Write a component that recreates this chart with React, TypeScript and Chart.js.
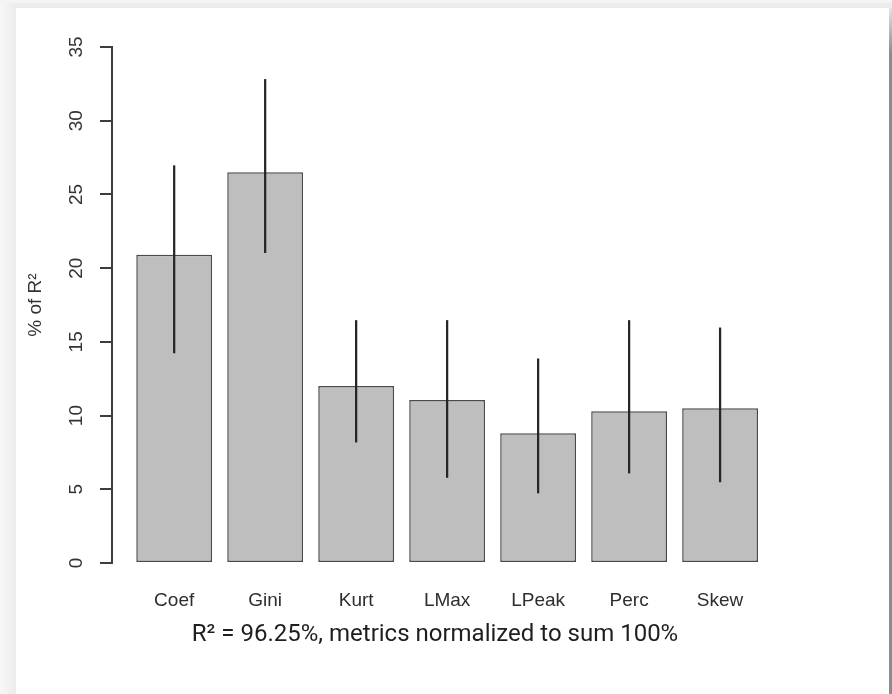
import { useEffect, useRef } from "react";
import { Chart, registerables } from "chart.js";

Chart.register(...registerables);

// Relative importance of each metric (share of R², %) with bootstrap intervals
const CATEGORIES = ["Coef", "Gini", "Kurt", "LMax", "LPeak", "Perc", "Skew"];
const SHARE = [20.9, 26.5, 12.0, 11.05, 8.8, 10.3, 10.5];
const CI_LOW = [14.25, 21.05, 8.2, 5.8, 4.75, 6.1, 5.5];
const CI_HIGH = [26.95, 32.8, 16.45, 16.45, 13.85, 16.45, 15.95];
const Y_TICKS = [0, 5, 10, 15, 20, 25, 30, 35];
const Y_TITLE = "% of R²";
const CAPTION = "R² = 96.25%, metrics normalized to sum 100%";

// barplot geometry: unit-wide bars separated by a gap of 0.2 bar widths
const BAR_WIDTH = 1;
const BAR_SPACE = 0.2;
const barCenter = (i: number) => BAR_SPACE + BAR_WIDTH / 2 + i * (BAR_WIDTH + BAR_SPACE);

const SANS = "'Liberation Sans', Arial, sans-serif";
const AXIS_INK = "#3d3d3d";

export default function App() {
  const canvasRef = useRef<HTMLCanvasElement>(null);

  useEffect(() => {
    const canvas = canvasRef.current;
    if (!canvas) return;

    const chart = new Chart(canvas, {
      type: "bar",
      data: {
        datasets: [
          {
            label: "interval",
            data: CATEGORIES.map((_, i) => ({ x: barCenter(i), y: [CI_LOW[i], CI_HIGH[i]] })) as any,
            backgroundColor: "#262626",
            borderWidth: 0,
            barThickness: 1.6,
            grouped: false,
            order: 0,
          },
          {
            label: "share",
            data: CATEGORIES.map((_, i) => ({ x: barCenter(i), y: SHARE[i] })) as any,
            backgroundColor: "#bebebe",
            borderColor: "#4a4a4a",
            borderWidth: 1.5,
            borderSkipped: false,
            categoryPercentage: 1,
            barPercentage: BAR_WIDTH / (BAR_WIDTH + BAR_SPACE),
            grouped: false,
            clip: false as any,
            order: 1,
          },
        ],
      },
      options: {
        responsive: false,
        animation: false,
        devicePixelRatio: 1,
        layout: { padding: { left: 16, top: 47, right: 134, bottom: 44.6 } },
        plugins: {
          legend: { display: false },
          tooltip: { enabled: false },
        },
        scales: {
          x: {
            type: "linear",
            min: -0.12,
            max: 8.4,
            offset: false,
            grid: { display: false, drawTicks: false },
            border: { display: false },
            afterBuildTicks: (scale: any) => {
              scale.ticks = CATEGORIES.map((_, i) => ({ value: barCenter(i) }));
            },
            afterFit: (scale: any) => {
              scale.height = 86.4;
            },
            ticks: {
              autoSkip: false,
              maxRotation: 0,
              minRotation: 0,
              padding: 26,
              color: "#2e2e2e",
              font: { family: SANS, size: 19 },
              callback: (_v: any, i: number) => CATEGORIES[i],
            },
            title: {
              display: true,
              text: CAPTION,
              color: "#1e1e1e",
              font: { family: "Roboto, sans-serif", size: 24 },
              padding: { top: 9, bottom: 0 },
            },
          },
          y: {
            min: 0,
            max: 35,
            afterBuildTicks: (scale: any) => {
              scale.ticks = Y_TICKS.map((v) => ({ value: v }));
            },
            afterFit: (scale: any) => {
              scale.width = 96;
            },
            grid: {
              display: true,
              drawOnChartArea: false,
              drawTicks: true,
              tickLength: 12,
              color: AXIS_INK,
              lineWidth: 2,
            },
            border: { display: true, color: AXIS_INK, width: 2 },
            ticks: {
              padding: 13,
              crossAlign: "center",
              minRotation: 90,
              maxRotation: 90,
              color: "#333333",
              font: { family: SANS, size: 19 },
            },
            title: {
              display: true,
              text: Y_TITLE,
              color: "#333333",
              font: { family: SANS, size: 19 },
              padding: { top: 8, bottom: 0 },
            },
          },
        },
      },
    });

    return () => chart.destroy();
  }, []);

  return (
    <div
      style={{
        position: "fixed",
        left: 0,
        top: 0,
        width: 892,
        height: 694,
        overflow: "hidden",
        background: "linear-gradient(to right, #f7f7f7 0px, #ececec 16px)",
      }}
    >
      <div style={{ position: "absolute", left: 0, top: 0, width: 892, height: 3, background: "#f4f4f4" }} />
      <div style={{ position: "absolute", left: 16, top: 8, width: 873, height: 686, background: "#ffffff" }} />
      <div
        style={{
          position: "absolute",
          left: 889,
          top: 8,
          width: 3,
          height: 686,
          background: "linear-gradient(#e4e4e4 0px, #8c8c8c 45px, #8c8c8c 100%)",
        }}
      />
      <canvas
        ref={canvasRef}
        width={892}
        height={694}
        style={{ position: "absolute", left: 0, top: 0, width: 892, height: 694 }}
      />
    </div>
  );
}
